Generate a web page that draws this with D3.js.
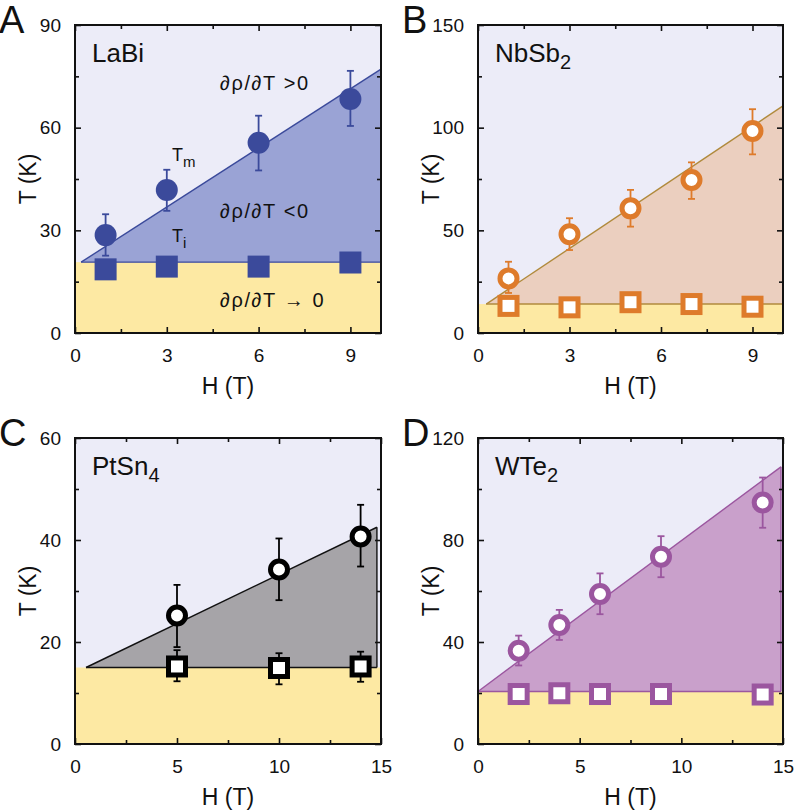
<!DOCTYPE html>
<html>
<head>
<meta charset="utf-8">
<script src="https://cdn.jsdelivr.net/npm/d3@7"></script>
<style>
  html, body { margin: 0; padding: 0; background: #fff; }
  svg { display: block; font-family: "Liberation Sans", Arial, Helvetica, sans-serif; }
</style>
</head>
<body>
<svg id="chart" width="796" height="812"></svg>
<script>
// ---------------- DATA ----------------
// Panel A: LaBi
const labiTmH = [1, 3, 6, 9];
const labiTm = [28.6, 41.8, 55.6, 68.4];
const labiTmLo = [22.6, 35.7, 47.5, 60.5];
const labiTmHi = [34.7, 47.7, 63.5, 76.6];
const labiTiH = [1, 3, 6, 9];
const labiTi = [18.6, 19.4, 19.4, 20.6];
const labiBoundary = [[0.2, 20.7], [10, 77.1]];
const labiTiLine = 20.7;

// Panel B: NbSb2
const nbsbTmH = [1, 3, 5, 7, 9];
const nbsbTm = [26.6, 48.1, 60.7, 74.5, 98.4];
const nbsbTmLo = [19.5, 40.4, 51.8, 65.3, 87];
const nbsbTmHi = [34.7, 55.9, 69.7, 83.1, 109];
const nbsbTiH = [1, 3, 5, 7, 9];
const nbsbTi = [13.2, 12.5, 15, 14.1, 12.8];
const nbsbBoundary = [[0.27, 14.1], [10, 110.6]];
const nbsbTiLine = 14.1;

// Panel C: PtSn4
const ptsnTmH = [5, 10, 14];
const ptsnTm = [25.2, 34.2, 40.7];
const ptsnTmLo = [19.0, 28.2, 34.8];
const ptsnTmHi = [31.2, 40.3, 46.9];
const ptsnTiH = [5, 10, 14];
const ptsnTi = [15.2, 14.9, 15.2];
const ptsnTiLo = [12.3, 11.7, 12.2];
const ptsnTiHi = [18.4, 17.8, 18.1];
const ptsnBoundary = [[0.54, 15.0], [14.8, 42.5]];
const ptsnTiLine = 15.0;

// Panel D: WTe2
const wteTmH = [2, 4, 6, 9, 14];
const wteTm = [36.6, 46.7, 58.8, 73.4, 94.7];
const wteTmLo = [30.8, 40.8, 50.9, 65.4, 84.8];
const wteTmHi = [42.5, 52.6, 66.9, 81.5, 104.5];
const wteTiH = [2, 4, 6, 9, 14];
const wteTi = [19.6, 19.9, 19.6, 19.6, 19.4];
const wteBoundary = [[0, 20.6], [14.9, 108.7]];
const wteTiLine = 20.6;

// Axis ticks
const xTicksA = [0, 3, 6, 9];
const xMinorA = [1.5, 4.5, 7.5];
const yTicksA = [0, 30, 60, 90];
const yMinorA = [15, 45, 75];
const xTicksB = [0, 3, 6, 9];
const xMinorB = [1.5, 4.5, 7.5];
const yTicksB = [0, 50, 100, 150];
const yMinorB = [25, 75, 125];
const xTicksC = [0, 5, 10, 15];
const xMinorC = [2.5, 7.5, 12.5];
const yTicksC = [0, 20, 40, 60];
const yMinorC = [10, 30, 50];
const xTicksD = [0, 5, 10, 15];
const xMinorD = [2.5, 7.5, 12.5];
const yTicksD = [0, 40, 80, 120];
const yMinorD = [20, 60, 100];

// ---------------- DRAW ----------------
const svg = d3.select("#chart");
const BG = "#ececf8";
const YELLOW = "#fde9a3";

const panels = [
  { letter: "A", name: "LaBi", sub: "", box: [75, 25, 381, 333], xDom: [0, 10], yDom: [0, 90],
    xT: xTicksA, xM: xMinorA, yT: yTicksA, yM: yMinorA,
    tmH: labiTmH, tm: labiTm, tmLo: labiTmLo, tmHi: labiTmHi, tiH: labiTiH, ti: labiTi,
    boundary: labiBoundary, tiLine: labiTiLine,
    fill: "#9aa3d5", line: "#3b4a9b", marker: "#3b4a9b", filled: true, closeRight: false },
  { letter: "B", name: "NbSb", sub: "2", box: [478, 25, 783, 333], xDom: [0, 10], yDom: [0, 150],
    xT: xTicksB, xM: xMinorB, yT: yTicksB, yM: yMinorB,
    tmH: nbsbTmH, tm: nbsbTm, tmLo: nbsbTmLo, tmHi: nbsbTmHi, tiH: nbsbTiH, ti: nbsbTi,
    boundary: nbsbBoundary, tiLine: nbsbTiLine,
    fill: "#ebcfbf", line: "#b08a3c", marker: "#de7b2b", filled: false, closeRight: false },
  { letter: "C", name: "PtSn", sub: "4", box: [75, 438, 381, 744], xDom: [0, 15], yDom: [0, 60],
    xT: xTicksC, xM: xMinorC, yT: yTicksC, yM: yMinorC,
    tmH: ptsnTmH, tm: ptsnTm, tmLo: ptsnTmLo, tmHi: ptsnTmHi, tiH: ptsnTiH, ti: ptsnTi,
    tiLo: ptsnTiLo, tiHi: ptsnTiHi,
    boundary: ptsnBoundary, tiLine: ptsnTiLine,
    fill: "#a6a4a8", line: "#111", marker: "#000", filled: false, closeRight: true },
  { letter: "D", name: "WTe", sub: "2", box: [478, 438, 783, 744], xDom: [0, 15], yDom: [0, 120],
    xT: xTicksD, xM: xMinorD, yT: yTicksD, yM: yMinorD,
    tmH: wteTmH, tm: wteTm, tmLo: wteTmLo, tmHi: wteTmHi, tiH: wteTiH, ti: wteTi,
    boundary: wteBoundary, tiLine: wteTiLine,
    fill: "#c9a0cb", line: "#9b569f", marker: "#9b569f", filled: false, closeRight: true }
];

panels.forEach(p => {
  const [x0, y0, x1, y1] = p.box;
  const x = d3.scaleLinear().domain(p.xDom).range([x0, x1]);
  const y = d3.scaleLinear().domain(p.yDom).range([y1, y0]);
  const g = svg.append("g");

  // background
  g.append("rect").attr("x", x0).attr("y", y0).attr("width", x1 - x0).attr("height", y1 - y0).attr("fill", BG);
  // yellow region
  g.append("rect").attr("x", x0).attr("y", y(p.tiLine)).attr("width", x1 - x0)
    .attr("height", y1 - y(p.tiLine)).attr("fill", YELLOW);

  // wedge region
  const b = p.boundary;
  const poly = [[b[0][0], b[0][1]], [b[1][0], b[1][1]], [b[1][0], p.tiLine]];
  g.append("path")
    .attr("d", d3.line().x(d => x(d[0])).y(d => y(d[1]))(poly) + "Z")
    .attr("fill", p.fill).attr("stroke", "none");
  // boundary lines
  const lineGen = d3.line().x(d => x(d[0])).y(d => y(d[1]));
  g.append("path").attr("d", lineGen([b[0], b[1]])).attr("fill", "none").attr("stroke", p.line).attr("stroke-width", 1.4);
  g.append("path").attr("d", lineGen([[b[0][0], p.tiLine], [b[1][0], p.tiLine]])).attr("fill", "none").attr("stroke", p.line).attr("stroke-width", 1.4);
  if (p.closeRight) {
    g.append("path").attr("d", lineGen([[b[1][0], b[1][1]], [b[1][0], p.tiLine]])).attr("fill", "none").attr("stroke", p.line).attr("stroke-width", 1.4);
  }

  // error bars
  const eb = (hs, lo, hi) => {
    hs.forEach((h, i) => {
      const cx = x(h);
      g.append("line").attr("x1", cx).attr("x2", cx).attr("y1", y(lo[i])).attr("y2", y(hi[i]))
        .attr("stroke", p.marker).attr("stroke-width", 1.8);
      [lo[i], hi[i]].forEach(v => {
        g.append("line").attr("x1", cx - 3.5).attr("x2", cx + 3.5).attr("y1", y(v)).attr("y2", y(v))
          .attr("stroke", p.marker).attr("stroke-width", 1.8);
      });
    });
  };
  eb(p.tmH, p.tmLo, p.tmHi);
  if (p.tiLo) eb(p.tiH, p.tiLo, p.tiHi);

  // markers: Tm circles
  p.tmH.forEach((h, i) => {
    const c = g.append("circle").attr("cx", x(h)).attr("cy", y(p.tm[i]));
    if (p.filled) c.attr("r", 11).attr("fill", p.marker);
    else c.attr("r", 8.5).attr("fill", "#fff").attr("stroke", p.marker).attr("stroke-width", 5);
  });
  // Ti squares
  p.tiH.forEach((h, i) => {
    if (p.filled) {
      g.append("rect").attr("x", x(h) - 11).attr("y", y(p.ti[i]) - 11).attr("width", 22).attr("height", 22).attr("fill", p.marker);
    } else {
      g.append("rect").attr("x", x(h) - 8.5).attr("y", y(p.ti[i]) - 8.5).attr("width", 17).attr("height", 17)
        .attr("fill", "#fff").attr("stroke", p.marker).attr("stroke-width", 5);
    }
  });

  // axes (ticks inward on all sides)
  const axFont = g2 => g2.selectAll("text").attr("font-size", 19).attr("fill", "#111")
    .attr("font-family", "'Liberation Sans', Arial, sans-serif");
  const clean = g2 => { g2.select(".domain").remove(); g2.selectAll("line").attr("stroke", "#111").attr("stroke-width", 1.6); };

  g.append("g").attr("transform", `translate(0,${y1})`)
    .call(d3.axisBottom(x).tickValues(p.xT).tickSize(-6).tickPadding(16).tickFormat(d3.format("d")))
    .call(clean).call(axFont);
  g.append("g").attr("transform", `translate(0,${y1})`)
    .call(d3.axisBottom(x).tickValues(p.xM).tickSize(-4).tickFormat("")).call(clean);
  g.append("g").attr("transform", `translate(0,${y0})`)
    .call(d3.axisTop(x).tickValues(p.xT).tickSize(-6).tickFormat("")).call(clean);
  g.append("g").attr("transform", `translate(0,${y0})`)
    .call(d3.axisTop(x).tickValues(p.xM).tickSize(-4).tickFormat("")).call(clean);
  g.append("g").attr("transform", `translate(${x0},0)`)
    .call(d3.axisLeft(y).tickValues(p.yT).tickSize(-6).tickPadding(14).tickFormat(d3.format("d")))
    .call(clean).call(axFont);
  g.append("g").attr("transform", `translate(${x0},0)`)
    .call(d3.axisLeft(y).tickValues(p.yM).tickSize(-4).tickFormat("")).call(clean);
  g.append("g").attr("transform", `translate(${x1},0)`)
    .call(d3.axisRight(y).tickValues(p.yT).tickSize(-6).tickFormat("")).call(clean);
  g.append("g").attr("transform", `translate(${x1},0)`)
    .call(d3.axisRight(y).tickValues(p.yM).tickSize(-4).tickFormat("")).call(clean);

  // frame
  g.append("rect").attr("x", x0).attr("y", y0).attr("width", x1 - x0).attr("height", y1 - y0)
    .attr("fill", "none").attr("stroke", "#111").attr("stroke-width", 2);

  // axis titles
  g.append("text").attr("x", (x0 + x1) / 2).attr("y", y1 + 61).attr("text-anchor", "middle")
    .attr("font-size", 23).attr("fill", "#111").text("H (T)");
  g.append("text").attr("transform", `translate(${x0 - 39},${(y0 + y1) / 2}) rotate(-90)`)
    .attr("text-anchor", "middle").attr("font-size", 23).attr("fill", "#111").text("T (K)");

  // panel letter
  g.append("text").attr("x", x0 - 76).attr("y", y0 + 8).attr("font-size", 38).attr("fill", "#111").text(p.letter);

  // material name
  const nm = g.append("text").attr("x", x0 + 17).attr("y", y0 + 37).attr("font-size", 26).attr("fill", "#111");
  nm.append("tspan").text(p.name);
  if (p.sub) nm.append("tspan").attr("dy", 7).attr("font-size", 20).text(p.sub);
});

// annotations in panel A
const annA = svg.append("g").attr("font-size", 20).attr("fill", "#111").attr("letter-spacing", 1.6);
annA.append("text").attr("x", 220).attr("y", 90).text("∂ρ/∂T >0");
annA.append("text").attr("x", 220).attr("y", 218).text("∂ρ/∂T <0");
annA.append("text").attr("x", 220).attr("y", 307).text("∂ρ/∂T → 0");
const tm = annA.append("text").attr("x", 172).attr("y", 161).attr("font-size", 18).attr("letter-spacing", 0);
tm.append("tspan").text("T");
tm.append("tspan").attr("dy", 6).attr("font-size", 15).text("m");
const ti = annA.append("text").attr("x", 172).attr("y", 242).attr("font-size", 18).attr("letter-spacing", 0);
ti.append("tspan").text("T");
ti.append("tspan").attr("dy", 6).attr("font-size", 15).text("i");
</script>
</body>
</html>
